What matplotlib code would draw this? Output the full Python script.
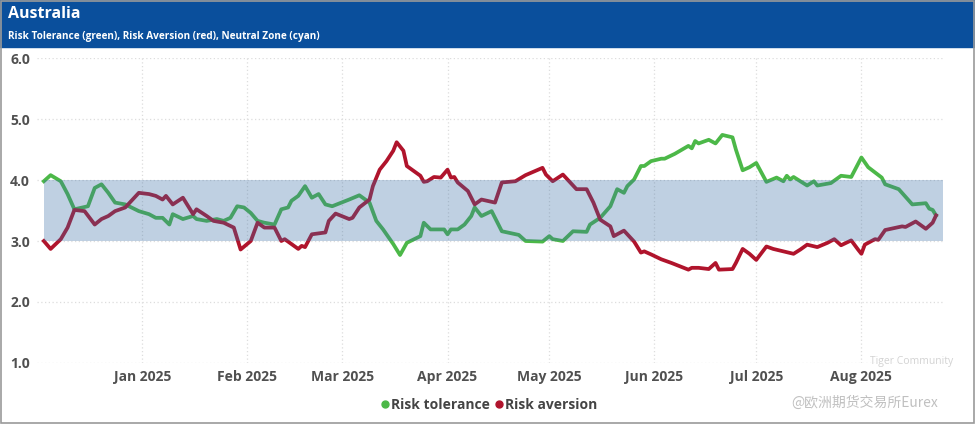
import pandas as pd
import matplotlib
matplotlib.use("Agg")
import matplotlib.pyplot as plt
import matplotlib.dates as mdates
from matplotlib.lines import Line2D
from matplotlib.patches import Rectangle

plt.rcParams["font.family"] = ["Open Sans", "DejaVu Sans"]

title = "Australia"
subtitle = "Risk Tolerance (green), Risk Aversion (red), Neutral Zone (cyan)"

tol_dates = [
    "2024-12-03", "2024-12-05", "2024-12-08", "2024-12-10", "2024-12-12", "2024-12-16",
    "2024-12-18", "2024-12-20", "2024-12-22", "2024-12-24", "2024-12-27", "2024-12-31",
    "2025-01-03", "2025-01-05", "2025-01-07", "2025-01-09", "2025-01-10", "2025-01-13",
    "2025-01-16", "2025-01-17", "2025-01-20", "2025-01-23", "2025-01-25", "2025-01-27",
    "2025-01-29", "2025-01-31", "2025-02-02", "2025-02-04", "2025-02-06", "2025-02-09",
    "2025-02-11", "2025-02-13", "2025-02-14", "2025-02-16", "2025-02-18", "2025-02-20",
    "2025-02-22", "2025-02-24", "2025-02-26", "2025-03-03", "2025-03-06", "2025-03-09",
    "2025-03-11", "2025-03-13", "2025-03-16", "2025-03-18", "2025-03-20", "2025-03-24",
    "2025-03-25", "2025-03-27", "2025-03-31", "2025-04-01", "2025-04-02", "2025-04-04",
    "2025-04-06", "2025-04-08", "2025-04-09", "2025-04-11", "2025-04-14", "2025-04-17",
    "2025-04-22", "2025-04-24", "2025-04-29", "2025-05-01", "2025-05-02", "2025-05-05",
    "2025-05-08", "2025-05-12", "2025-05-13", "2025-05-16", "2025-05-19", "2025-05-21",
    "2025-05-23", "2025-05-24", "2025-05-26", "2025-05-28", "2025-05-29", "2025-05-31",
    "2025-06-03", "2025-06-04", "2025-06-07", "2025-06-11", "2025-06-12", "2025-06-13",
    "2025-06-14", "2025-06-17", "2025-06-19", "2025-06-21", "2025-06-24", "2025-06-25",
    "2025-06-27", "2025-06-29", "2025-07-01", "2025-07-04", "2025-07-07", "2025-07-09",
    "2025-07-10", "2025-07-11", "2025-07-12", "2025-07-16", "2025-07-18", "2025-07-19",
    "2025-07-23", "2025-07-26", "2025-07-29", "2025-08-01", "2025-08-03", "2025-08-07",
    "2025-08-08", "2025-08-12", "2025-08-16", "2025-08-20", "2025-08-21", "2025-08-22",
    "2025-08-23",
]
tol_values = [
    3.98, 4.08, 3.98, 3.77, 3.52, 3.57,
    3.87, 3.93, 3.79, 3.63, 3.60, 3.49,
    3.44, 3.38, 3.38, 3.27, 3.44, 3.36,
    3.41, 3.36, 3.33, 3.36, 3.33, 3.38,
    3.57, 3.55, 3.46, 3.33, 3.30, 3.27,
    3.52, 3.55, 3.66, 3.74, 3.90, 3.71,
    3.77, 3.60, 3.57, 3.68, 3.75, 3.63,
    3.33, 3.19, 2.95, 2.77, 2.97, 3.08,
    3.30, 3.19, 3.19, 3.11, 3.19, 3.19,
    3.27, 3.41, 3.55, 3.41, 3.49, 3.16,
    3.10, 3.00, 2.99, 3.08, 3.03, 3.00,
    3.16, 3.15, 3.27, 3.38, 3.57, 3.85,
    3.79, 3.90, 4.01, 4.23, 4.23, 4.31,
    4.35, 4.35, 4.43, 4.56, 4.52, 4.64,
    4.60, 4.66, 4.60, 4.74, 4.70, 4.50,
    4.16, 4.21, 4.28, 3.97, 4.04, 3.98,
    4.07, 4.01, 4.05, 3.91, 3.98, 3.91,
    3.95, 4.07, 4.05, 4.37, 4.21, 4.04,
    3.93, 3.85, 3.60, 3.62, 3.53, 3.51,
    3.42,
]

av_dates = [
    "2024-12-03", "2024-12-05", "2024-12-08", "2024-12-10", "2024-12-12", "2024-12-15",
    "2024-12-18", "2024-12-20", "2024-12-22", "2024-12-24", "2024-12-27", "2024-12-31",
    "2025-01-03", "2025-01-05", "2025-01-07", "2025-01-08", "2025-01-10", "2025-01-13",
    "2025-01-16", "2025-01-17", "2025-01-20", "2025-01-22", "2025-01-25", "2025-01-28",
    "2025-01-30", "2025-02-02", "2025-02-04", "2025-02-06", "2025-02-09", "2025-02-11",
    "2025-02-12", "2025-02-16", "2025-02-17", "2025-02-18", "2025-02-20", "2025-02-24",
    "2025-02-25", "2025-02-27", "2025-03-03", "2025-03-04", "2025-03-06", "2025-03-09",
    "2025-03-10", "2025-03-12", "2025-03-14", "2025-03-16", "2025-03-17", "2025-03-19",
    "2025-03-20", "2025-03-24", "2025-03-25", "2025-03-26", "2025-03-28", "2025-03-30",
    "2025-04-01", "2025-04-02", "2025-04-03", "2025-04-04", "2025-04-07", "2025-04-09",
    "2025-04-11", "2025-04-15", "2025-04-17", "2025-04-21", "2025-04-24", "2025-04-29",
    "2025-04-30", "2025-05-02", "2025-05-05", "2025-05-09", "2025-05-12", "2025-05-14",
    "2025-05-16", "2025-05-19", "2025-05-20", "2025-05-23", "2025-05-26", "2025-05-28",
    "2025-05-29", "2025-05-31", "2025-06-03", "2025-06-06", "2025-06-11", "2025-06-12",
    "2025-06-14", "2025-06-17", "2025-06-19", "2025-06-20", "2025-06-24", "2025-06-25",
    "2025-06-27", "2025-06-29", "2025-07-01", "2025-07-04", "2025-07-06", "2025-07-09",
    "2025-07-12", "2025-07-14", "2025-07-16", "2025-07-19", "2025-07-22", "2025-07-24",
    "2025-07-26", "2025-07-29", "2025-07-31", "2025-08-01", "2025-08-02", "2025-08-05",
    "2025-08-06", "2025-08-08", "2025-08-13", "2025-08-14", "2025-08-17", "2025-08-20",
    "2025-08-22", "2025-08-23",
]
av_values = [
    3.00, 2.87, 3.03, 3.22, 3.51, 3.49,
    3.27, 3.36, 3.41, 3.49, 3.55, 3.79,
    3.77, 3.74, 3.68, 3.74, 3.60, 3.71,
    3.44, 3.52, 3.41, 3.33, 3.30, 3.22,
    2.86, 3.00, 3.30, 3.22, 3.22, 3.00,
    3.03, 2.87, 2.92, 2.90, 3.11, 3.14,
    3.33, 3.45, 3.36, 3.38, 3.55, 3.68,
    3.90, 4.17, 4.31, 4.48, 4.62, 4.48,
    4.23, 4.07, 3.97, 3.98, 4.05, 4.04,
    4.17, 4.04, 4.05, 3.96, 3.82, 3.60,
    3.68, 3.63, 3.96, 3.98, 4.08, 4.20,
    4.09, 3.98, 4.09, 3.85, 3.85, 3.63,
    3.35, 3.24, 3.08, 3.17, 2.99, 2.81,
    2.83, 2.78, 2.70, 2.64, 2.53, 2.56,
    2.56, 2.54, 2.64, 2.53, 2.54, 2.64,
    2.87, 2.79, 2.69, 2.91, 2.87, 2.83,
    2.79, 2.86, 2.94, 2.90, 2.97, 3.03,
    2.93, 3.01, 2.86, 2.79, 2.94, 3.03,
    3.02, 3.18, 3.24, 3.23, 3.32, 3.20,
    3.30, 3.42,
]

zone_low, zone_high = 3.0, 4.0
zone_span = ["2024-12-03", "2025-08-25"]
x_range = ["2024-12-01", "2025-08-25"]

tol = pd.Series(tol_values, index=pd.to_datetime(tol_dates))
av = pd.Series(av_values, index=pd.to_datetime(av_dates))

GREEN = "#4cb848"
RED = "#b0142c"
HEADER = "#0a4f9c"
TXT = "#505050"

fig = plt.figure(figsize=(9.75, 4.24), dpi=100)

# header band + frame
fig.patches.append(Rectangle((0, 0.889), 1, 0.111, transform=fig.transFigure,
                             color=HEADER, zorder=0))
fig.patches.append(Rectangle((0.001, 0.002), 0.998, 0.996, transform=fig.transFigure,
                             fill=False, edgecolor="#9a9a9a", lw=1.2, zorder=5))
fig.text(0.008, 0.967, title, color="white", fontsize=11.5, fontweight="bold",
         va="center", ha="left")
fig.text(0.008, 0.914, subtitle, color="white", fontsize=7.2, fontweight="bold",
         va="center", ha="left")

ax = fig.add_axes([0.038, 0.144, 0.929, 0.719])

ax.plot(tol.index, tol.values, color=GREEN, lw=2.7, solid_joinstyle="round", zorder=2)
ax.plot(av.index, av.values, color=RED, lw=2.7, solid_joinstyle="round", zorder=2)

# neutral zone drawn over the lines, semi transparent
zs = pd.to_datetime(zone_span)
ax.fill_between(zs, zone_low, zone_high, color="#3a6ea5", alpha=0.32, lw=0, zorder=3)

ax.set_xlim(pd.to_datetime(x_range[0]), pd.to_datetime(x_range[1]))
ax.set_ylim(1.0, 6.0)
ax.set_yticks([1, 2, 3, 4, 5, 6])
ax.yaxis.set_major_formatter(plt.FormatStrFormatter("%.1f"))
ax.xaxis.set_major_locator(mdates.MonthLocator(bymonth=range(1, 9)))
ax.xaxis.set_major_formatter(mdates.DateFormatter("%b %Y"))

ax.grid(True, color="#dddddd", linestyle=(0, (1, 2)), lw=0.9, zorder=0)
for s in ax.spines.values():
    s.set_visible(False)
ax.tick_params(length=0, labelsize=10, labelcolor=TXT)
for lbl in ax.get_xticklabels() + ax.get_yticklabels():
    lbl.set_fontweight("bold")
ax.tick_params(axis="y", pad=5)
ax.tick_params(axis="x", pad=5)

handles = [
    Line2D([], [], marker="o", ls="", color=GREEN, markersize=5),
    Line2D([], [], marker="o", ls="", color=RED, markersize=5),
]
leg = fig.legend(handles, ["Risk tolerance", "Risk aversion"], loc="center",
                 bbox_to_anchor=(0.5, 0.045), ncol=2, frameon=False,
                 handletextpad=-0.1, columnspacing=0.2, handlelength=1.0,
                 prop={"weight": "bold", "size": 10})
for t in leg.get_texts():
    t.set_color("#444444")

# watermarks
fig.text(0.935, 0.148, "Tiger Community", color="#c8c8c8", fontsize=7.5,
         ha="center", va="center", alpha=0.8)
fig.text(0.887, 0.05, "@欧洲期货交易所Eurex", color="#c0c0c0", fontsize=10,
         ha="center", va="center", family=["Noto Sans CJK SC", "DejaVu Sans"])

fig.savefig("out.png", dpi=100)
